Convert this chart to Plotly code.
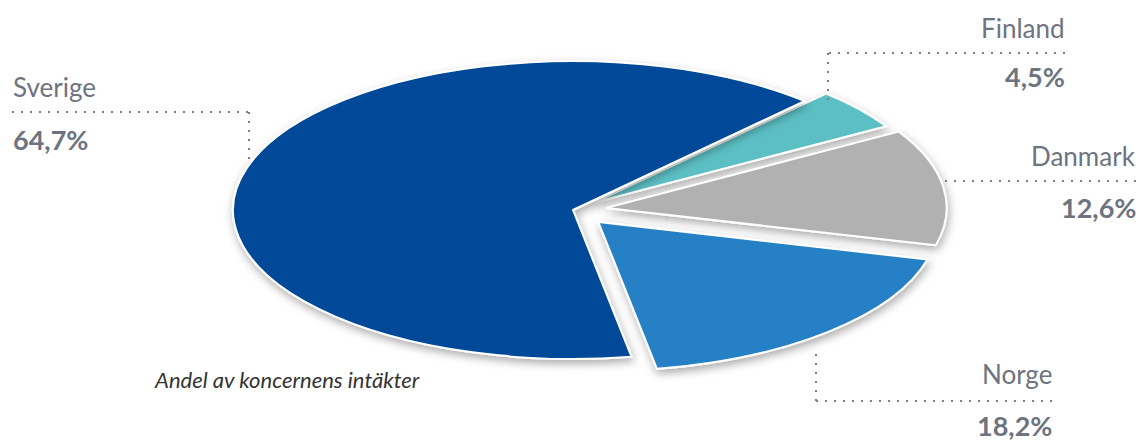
import plotly.graph_objects as go

# ---------------- data ----------------
countries = ["Finland", "Danmark", "Norge", "Sverige"]
shares = [4.5, 12.6, 18.2, 64.7]
colors = ["#5bbfc4", "#b1b1b1", "#2780c5", "#004a98"]
pulls = [0.08, 0.10, 0.11, 0.0]
caption = "Andel av koncernens intäkter"

# ---------------- layout geometry (pixels) ----------------
W, H = 1140, 442
CX, CY = 573, 210          # centre of the pie
RY, RX = 149, 340          # vertical / horizontal radius of the flattened pie
half = RY * (1 + max(pulls))
dom_x = [(CX - half) / W, (CX + half) / W]
dom_y = [(H - (CY + half)) / H, (H - (CY - half)) / H]
SX = RX / RY

def px(x):
    return x / W

def py(y):
    return 1 - y / H

def pct(v):
    return f"{v:.1f}".replace(".", ",") + "%"

TXT = "#6e7380"
LINE = "#7a7f88"

fig = go.Figure(
    go.Pie(
        labels=countries,
        values=shares,
        sort=False,
        direction="clockwise",
        rotation=43,
        pull=pulls,
        marker=dict(colors=colors, line=dict(color="white", width=2)),
        textinfo="none",
        hoverinfo="label+percent",
        showlegend=False,
        domain=dict(x=dom_x, y=dom_y),
    )
)

# label placement: (name x, anchor, name y, value y, leader line points)
place = {
    "Sverige": dict(x=11, anchor="left", ny=87, vy=139,
                    pts=[(12, 112), (249, 112), (249, 166)]),
    "Finland": dict(x=1067, anchor="right", ny=28, vy=76,
                    pts=[(1065, 53), (828, 53), (828, 104)]),
    "Danmark": dict(x=1138, anchor="right", ny=156, vy=207,
                    pts=[(1136, 181), (938, 181)]),
    "Norge": dict(x=1054, anchor="right", ny=374, vy=425,
                  pts=[(1052, 401), (816, 401), (816, 350)]),
}

annotations = []
shapes = []
for name, val in zip(countries, shares):
    p = place[name]
    annotations.append(dict(
        text=name, x=px(p["x"]), y=py(p["ny"]), xref="paper", yref="paper",
        xanchor=p["anchor"], yanchor="middle", showarrow=False,
        font=dict(family="Lato", size=26, color=TXT)))
    annotations.append(dict(
        text=f"<b>{pct(val)}</b>", x=px(p["x"]), y=py(p["vy"]), xref="paper", yref="paper",
        xanchor=p["anchor"], yanchor="middle", showarrow=False,
        font=dict(family="Lato", size=27, color=TXT)))
    pts = p["pts"]
    for (x0, y0), (x1, y1) in zip(pts[:-1], pts[1:]):
        shapes.append(dict(type="line", xref="paper", yref="paper",
                           x0=px(x0), y0=py(y0), x1=px(x1), y1=py(y1),
                           line=dict(color=LINE, width=2, dash="2px,7px")))

annotations.append(dict(
    text=f"<i>{caption}</i>", x=px(152), y=py(379), xref="paper", yref="paper",
    xanchor="left", yanchor="middle", showarrow=False,
    font=dict(family="Lato", size=22, color="#333333")))

fig.update_layout(
    width=W, height=H,
    margin=dict(l=0, r=0, t=0, b=0),
    paper_bgcolor="white", plot_bgcolor="white",
    annotations=annotations, shapes=shapes,
    showlegend=False,
)

post = """
document.body.style.margin = '0';
document.body.style.padding = '0';
document.body.style.overflow = 'hidden';
var gd = document.getElementById('{plot_id}');
var ns = 'http://www.w3.org/2000/svg';
var svg = gd.querySelector('svg.main-svg');
var defs = svg.querySelector('defs');
if (!defs) { defs = document.createElementNS(ns, 'defs'); svg.insertBefore(defs, svg.firstChild); }
var f = document.createElementNS(ns, 'filter');
f.setAttribute('id', 'pieshadow');
f.setAttribute('x', '-20%'); f.setAttribute('y', '-20%');
f.setAttribute('width', '140%'); f.setAttribute('height', '140%');
var d = document.createElementNS(ns, 'feDropShadow');
d.setAttribute('dx', '0.6'); d.setAttribute('dy', '4');
d.setAttribute('stdDeviation', '2.2 4.5');
d.setAttribute('flood-color', '#000'); d.setAttribute('flood-opacity', '0.32');
f.appendChild(d); defs.appendChild(f);
var layer = gd.querySelector('.pielayer');
layer.setAttribute('transform', 'translate(CXV,0) scale(SXV,1) translate(-CXV,0)');
layer.querySelectorAll('g.slice').forEach(function(s){ s.setAttribute('filter', 'url(#pieshadow)'); });
layer.querySelectorAll('path.surface').forEach(function(p){ p.style.vectorEffect = 'non-scaling-stroke'; });
""".replace("CXV", str(CX)).replace("SXV", f"{SX:.4f}")

fig.write_html("out.html", post_script=post, config=dict(displayModeBar=False))
